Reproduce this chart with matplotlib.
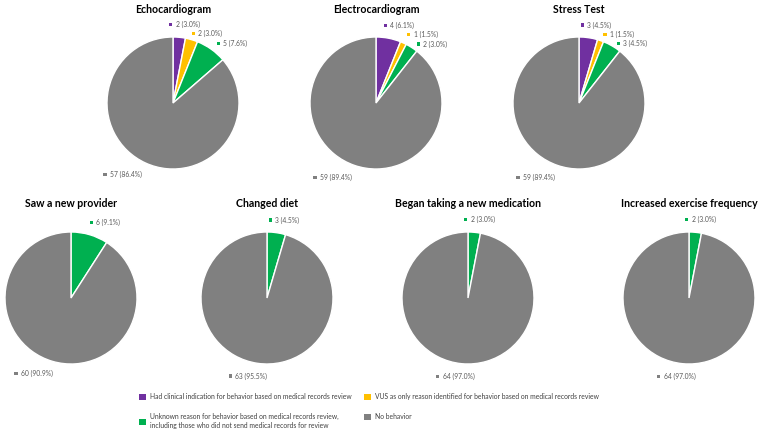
import numpy as np
import matplotlib.pyplot as plt
from matplotlib.patches import Patch, Rectangle
from matplotlib.offsetbox import AnnotationBbox, DrawingArea, HPacker, TextArea

plt.rcParams['font.family'] = ['Lato', 'DejaVu Sans']

# ---------- datos ----------
categories = [
    "Had clinical indication for behavior based on medical records review",
    "VUS as only reason identified for behavior based on medical records review",
    "Unknown reason for behavior based on medical records review,\nincluding those who did not send medical records for review",
    "No behavior",
]
colors = ["#7030A0", "#FFC000", "#00B050", "#808080"]

titles = ["Echocardiogram", "Electrocardiogram", "Stress Test",
          "Saw a new provider", "Changed diet", "Began taking a new medication",
          "Increased exercise frequency"]

echo = [2, 2, 5, 57]
electro = [4, 1, 2, 59]
stress = [3, 1, 3, 59]
provider = [0, 0, 6, 60]
diet = [0, 0, 3, 63]
medication = [0, 0, 2, 64]
exercise = [0, 0, 2, 64]
counts = [echo, electro, stress, provider, diet, medication, exercise]

# ---------- layout (pixeles) ----------
W, H = 762, 434
R = 66
centers = [(173, 103), (376, 103), (579, 103),
           (71, 298), (267, 298), (468, 298), (689, 298)]
title_y = [13, 13, 13, 207, 207, 207, 207]
LBL_SIZE = 4.9

fig = plt.figure(figsize=(W / 100, H / 100), dpi=100)


def pie_axes(cx, cy, aw=240, ah=190):
    ax = fig.add_axes([(cx - aw / 2) / W, 1 - (cy + ah / 2) / H, aw / W, ah / H])
    return ax, aw, ah


def fix_limits(ax, aw, ah):
    ax.set_aspect('auto')
    ax.set_xlim(-aw / 2 / R, aw / 2 / R)
    ax.set_ylim(-ah / 2 / R, ah / 2 / R)
    ax.axis('off')


def slice_label(ax, text, color, ang, xy):
    c, s = np.cos(np.radians(ang)), np.sin(np.radians(ang))
    sq = DrawingArea(2.3, 2.3, 0, 0)
    sq.add_artist(Rectangle((0, 0), 2.3, 2.3, fc=color, ec='none'))
    txt = TextArea(text, textprops=dict(size=LBL_SIZE, color='#595959'))
    box = HPacker(children=[sq, txt], align='center', pad=0, sep=2.4)
    ax_ = float(np.clip(0.5 - 1.5 * c, 0, 1))
    ay_ = 0.5 - 0.5 * s
    ab = AnnotationBbox(box, xy, xycoords='data',
                        box_alignment=(ax_, ay_), frameon=False, pad=0,
                        annotation_clip=False)
    ax.add_artist(ab)


for i, vals in enumerate(counts):
    cx, cy = centers[i]
    ax, aw, ah = pie_axes(cx, cy)
    idx = [k for k, v in enumerate(vals) if v > 0]
    vv = [vals[k] for k in idx]
    cc = [colors[k] for k in idx]
    ax.pie(vv, colors=cc, startangle=90, counterclock=False, radius=1,
           wedgeprops=dict(edgecolor='white', linewidth=1.0))
    fix_limits(ax, aw, ah)
    total = sum(vals)
    acc = 0
    prev_y = None
    for k, v in zip(idx, vv):
        mid = 90 - 360 * (acc + v / 2) / total
        acc += v
        c, s = np.cos(np.radians(mid)), np.sin(np.radians(mid))
        x, y = 1.14 * c, 1.14 * s
        # separar etiquetas pequeñas que se pisan (arriba)
        if prev_y is not None and s > 0 and y > prev_y - 9 / R:
            y = prev_y - 9 / R
        prev_y = y if s > 0 else None
        slice_label(ax, f"{v} ({v / total * 100:.1f}%)", colors[k], mid, (x, y))
    fig.text(cx / W, 1 - title_y[i] / H, titles[i], ha='center', va='baseline',
             fontsize=7.6, fontweight='bold', color='black')

# ---------- leyenda ----------
order = [0, 2, 1, 3]
handles = [Patch(facecolor=colors[k], edgecolor='none') for k in order]
labels = [categories[k] for k in order]
fig.legend(handles, labels, ncol=2, loc='upper left',
           bbox_to_anchor=(139 / W, 1 - 393 / H), frameon=False,
           fontsize=4.9, handlelength=1.05, handleheight=1.0, handletextpad=0.6,
           columnspacing=1.75, labelspacing=1.95, borderpad=0, borderaxespad=0,
           labelcolor='#404040')

fig.savefig("out.png", dpi=100)
